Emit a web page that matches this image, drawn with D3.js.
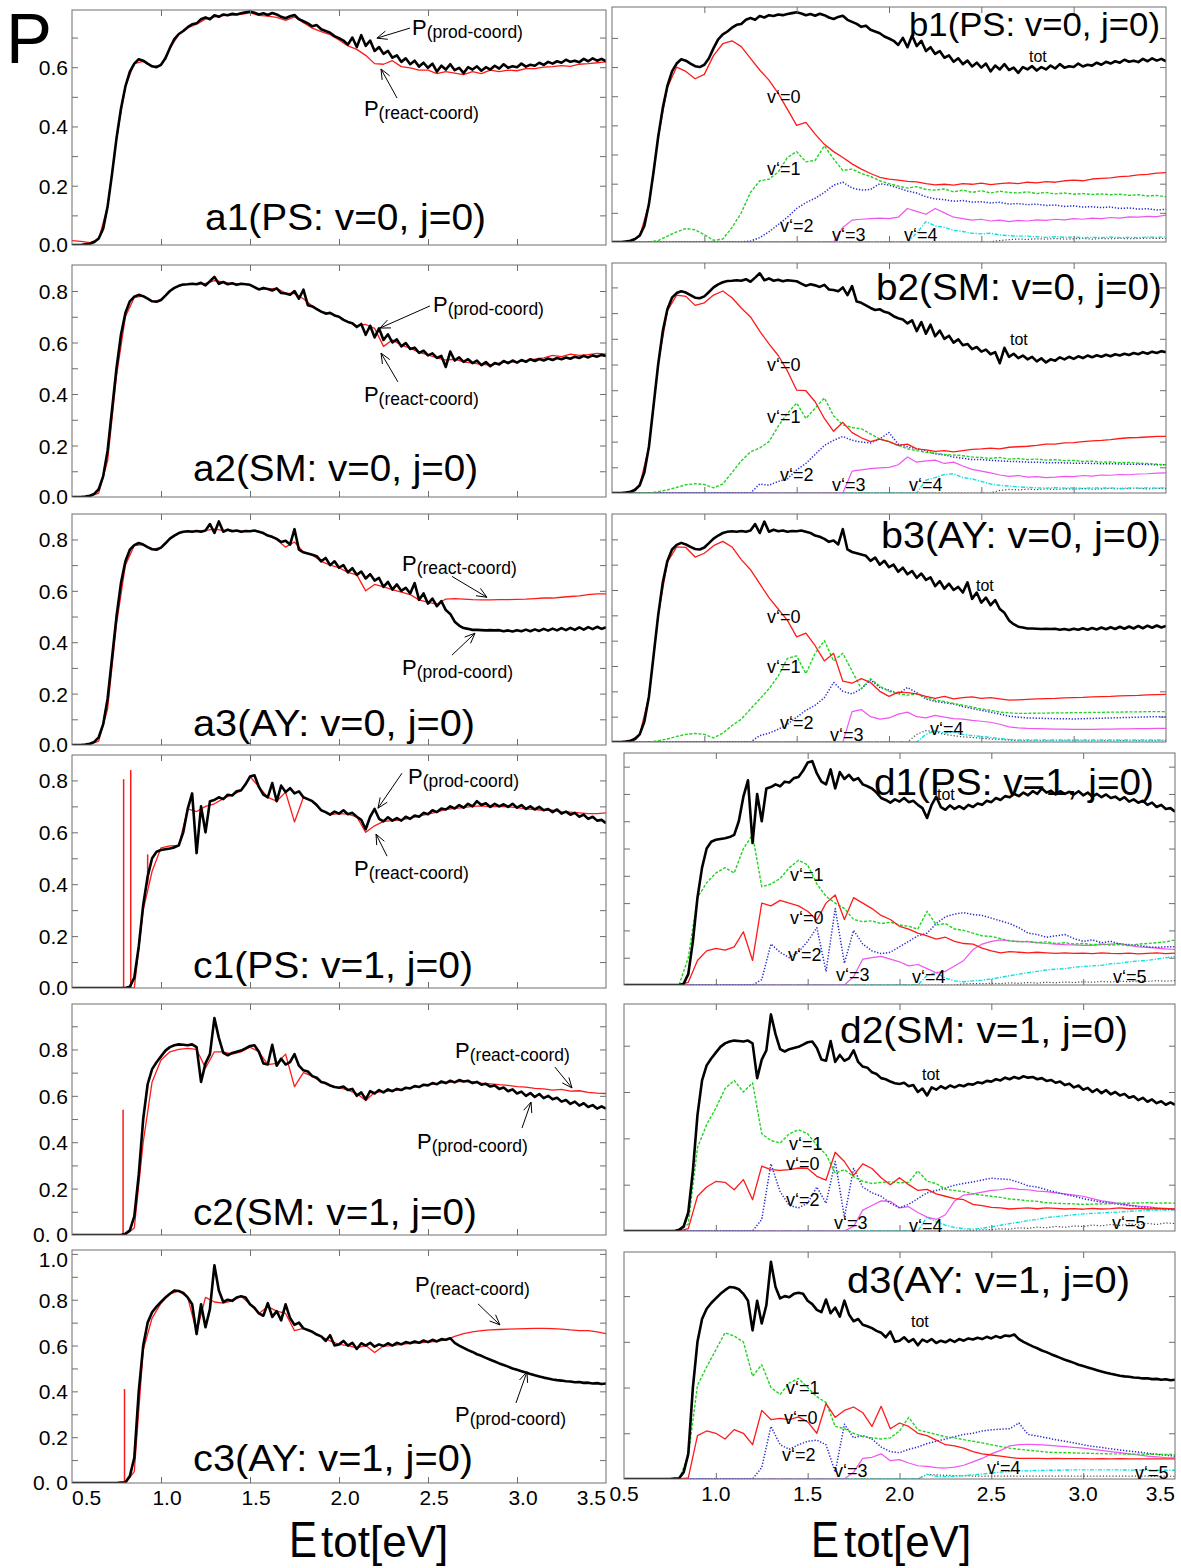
<!DOCTYPE html>
<html>
<head>
<meta charset="utf-8">
<script src="https://cdn.jsdelivr.net/npm/d3@7"></script>
<style>
  body { margin: 0; background: #fff; }
  svg text { font-family: "Liberation Sans", Arial, Helvetica, sans-serif; fill: #000; }
</style>
</head>
<body>
<svg id="fig" width="1181" height="1568"></svg>
<script>
// ---------------------------------------------------------------
// Reaction probabilities P(Etot) for three potential surfaces
// (PS, SM, AY), initial v=0 and v=1, j=0.
// Total curves are sampled every 0.025 eV, the rest every 0.05 eV.
// ---------------------------------------------------------------
const E_FINE = d3.range(121).map(i => +(0.5 + 0.025 * i).toFixed(3));
const E_COARSE = d3.range(61).map(i => +(0.5 + 0.05 * i).toFixed(2));

// ---------- PS, v=0 ----------
const totPS0 = [
  0.000,0.000,0.000,0.002,0.004,0.010,0.022,0.055,0.130,0.240,
  0.360,0.460,0.535,0.585,0.612,0.627,0.622,0.612,0.603,0.600,
  0.608,0.630,0.665,0.695,0.712,0.722,0.735,0.745,0.748,0.762,
  0.768,0.762,0.775,0.770,0.778,0.775,0.780,0.778,0.782,0.785,
  0.788,0.784,0.778,0.782,0.776,0.783,0.778,0.770,0.765,0.772,
  0.776,0.762,0.755,0.748,0.738,0.742,0.728,0.722,0.716,0.705,
  0.698,0.690,0.676,0.700,0.668,0.708,0.672,0.690,0.655,0.668,
  0.645,0.655,0.632,0.640,0.618,0.630,0.610,0.622,0.602,0.615,
  0.598,0.612,0.585,0.605,0.592,0.610,0.590,0.598,0.580,0.600,
  0.592,0.603,0.588,0.600,0.592,0.605,0.595,0.610,0.598,0.603,
  0.600,0.612,0.602,0.608,0.605,0.615,0.608,0.618,0.612,0.620,
  0.615,0.625,0.618,0.622,0.617,0.628,0.620,0.630,0.622,0.628,
  0.620];
const reactPS0 = [
  0.015,0.012,0.008,0.020,0.130,0.360,0.535,0.612,0.620,0.602,
  0.607,0.664,0.710,0.733,0.745,0.762,0.770,0.774,0.776,0.778,
  0.783,0.775,0.772,0.768,0.758,0.770,0.750,0.732,0.720,0.710,
  0.692,0.672,0.660,0.640,0.612,0.610,0.622,0.602,0.598,0.590,
  0.590,0.578,0.585,0.580,0.575,0.585,0.578,0.590,0.585,0.590,
  0.588,0.595,0.595,0.600,0.602,0.605,0.603,0.610,0.612,0.615,
  0.618];
const v0PS0 = [
  0,0,0.004,0.020,0.130,0.360,0.530,0.600,0.585,0.560,
  0.575,0.640,0.680,0.690,0.670,0.630,0.590,0.555,0.510,0.455,
  0.400,0.410,0.370,0.335,0.310,0.290,0.268,0.250,0.235,0.222,
  0.216,0.212,0.208,0.206,0.200,0.196,0.198,0.195,0.200,0.198,
  0.202,0.197,0.200,0.203,0.200,0.205,0.203,0.207,0.205,0.210,
  0.212,0.210,0.216,0.218,0.220,0.224,0.226,0.230,0.232,0.236,
  0.238];
const v1PS0 = [
  0,0,0,0,0,0.005,0.020,0.035,0.046,0.042,
  0.025,0.006,0.010,0.050,0.100,0.170,0.210,0.215,0.240,0.290,
  0.310,0.275,0.280,0.330,0.285,0.245,0.250,0.235,0.225,0.210,
  0.200,0.192,0.185,0.190,0.180,0.178,0.182,0.172,0.178,0.170,
  0.176,0.168,0.174,0.170,0.168,0.172,0.166,0.170,0.165,0.168,
  0.164,0.166,0.163,0.165,0.162,0.164,0.160,0.162,0.158,0.160,
  0.155];
const v2PS0 = [
  0,0,0,0,0,0,0,0,0,0,
  0,0,0,0,0,0.003,0.015,0.035,0.060,0.085,
  0.115,0.135,0.150,0.170,0.195,0.205,0.185,0.178,0.180,0.200,
  0.195,0.185,0.175,0.168,0.155,0.148,0.145,0.140,0.142,0.137,
  0.138,0.134,0.136,0.130,0.132,0.128,0.130,0.125,0.127,0.122,
  0.124,0.120,0.121,0.118,0.120,0.115,0.117,0.113,0.114,0.110,
  0.112];
const v3PS0 = [
  0,0,0,0,0,0,0,0,0,0,
  0,0,0,0,0,0,0,0,0,0,
  0,0,0,0,0,0.050,0.075,0.078,0.080,0.082,
  0.080,0.085,0.115,0.105,0.095,0.115,0.100,0.085,0.080,0.075,
  0.078,0.072,0.075,0.070,0.074,0.072,0.076,0.074,0.078,0.076,
  0.080,0.078,0.082,0.080,0.084,0.082,0.086,0.085,0.088,0.087,
  0.092];
const v4PS0 = [
  0,0,0,0,0,0,0,0,0,0,
  0,0,0,0,0,0,0,0,0,0,
  0,0,0,0,0,0,0,0,0,0,
  0,0,0,0.030,0.070,0.055,0.050,0.040,0.036,0.030,
  0.028,0.030,0.024,0.022,0.020,0.020,0.018,0.016,0.018,0.016,
  0.017,0.015,0.016,0.015,0.017,0.015,0.016,0.015,0.017,0.016,
  0.017];
const v5PS0 = [
  0,0,0,0,0,0,0,0,0,0,
  0,0,0,0,0,0,0,0,0,0,
  0,0,0,0,0,0,0,0,0,0,
  0,0,0,0,0,0,0,0,0,0,
  0,0,0.005,0.008,0.010,0.009,0.011,0.010,0.012,0.010,
  0.011,0.012,0.010,0.012,0.011,0.013,0.011,0.012,0.013,0.012,
  0.012];

// ---------- SM, v=0 ----------
const totSM0 = [
  0,0,0,0.002,0.005,0.012,0.030,0.080,0.180,0.340,
  0.500,0.630,0.715,0.760,0.778,0.785,0.780,0.770,0.760,0.758,
  0.765,0.782,0.800,0.812,0.820,0.825,0.826,0.828,0.826,0.832,
  0.822,0.838,0.855,0.828,0.835,0.826,0.830,0.824,0.828,0.826,
  0.824,0.815,0.806,0.812,0.808,0.802,0.810,0.792,0.790,0.785,
  0.800,0.770,0.805,0.745,0.740,0.730,0.720,0.712,0.715,0.705,
  0.700,0.688,0.680,0.675,0.660,0.672,0.630,0.665,0.620,0.655,
  0.610,0.632,0.600,0.612,0.585,0.598,0.575,0.580,0.560,0.568,
  0.550,0.558,0.540,0.548,0.505,0.565,0.530,0.542,0.525,0.535,
  0.520,0.530,0.512,0.524,0.508,0.520,0.515,0.528,0.520,0.530,
  0.522,0.532,0.525,0.535,0.528,0.536,0.530,0.538,0.532,0.540,
  0.535,0.542,0.537,0.545,0.540,0.548,0.542,0.550,0.545,0.552,
  0.548];
const reactSM0 = [
  0,0,0.002,0.015,0.140,0.470,0.700,0.775,0.780,0.760,
  0.765,0.800,0.820,0.826,0.826,0.830,0.840,0.835,0.828,0.828,
  0.824,0.806,0.808,0.810,0.792,0.790,0.770,0.742,0.720,0.714,
  0.700,0.680,0.665,0.670,0.655,0.585,0.610,0.590,0.578,0.562,
  0.552,0.540,0.532,0.535,0.525,0.520,0.515,0.512,0.520,0.525,
  0.525,0.530,0.535,0.540,0.550,0.545,0.555,0.550,0.553,0.558,
  0.555];
const v0SM0 = [
  0,0,0.005,0.030,0.180,0.500,0.710,0.770,0.765,0.730,
  0.740,0.770,0.786,0.760,0.720,0.685,0.630,0.580,0.535,0.475,
  0.400,0.398,0.355,0.290,0.240,0.275,0.235,0.215,0.200,0.210,
  0.200,0.185,0.190,0.172,0.168,0.162,0.165,0.160,0.165,0.170,
  0.172,0.175,0.172,0.178,0.180,0.182,0.185,0.190,0.190,0.195,
  0.196,0.200,0.203,0.205,0.208,0.212,0.215,0.216,0.218,0.220,
  0.220];
const v1SM0 = [
  0,0,0,0,0,0.005,0.012,0.022,0.032,0.036,
  0.033,0.020,0.035,0.080,0.125,0.160,0.175,0.200,0.260,0.310,
  0.350,0.290,0.330,0.370,0.300,0.265,0.255,0.250,0.230,0.210,
  0.200,0.185,0.172,0.165,0.158,0.155,0.150,0.148,0.145,0.140,
  0.138,0.135,0.138,0.132,0.134,0.130,0.132,0.128,0.130,0.126,
  0.127,0.123,0.124,0.120,0.121,0.118,0.119,0.116,0.115,0.112,
  0.110];
const v2SM0 = [
  0,0,0,0,0,0,0,0,0,0,
  0,0,0,0,0,0,0.035,0.030,0.045,0.055,
  0.090,0.115,0.150,0.185,0.205,0.220,0.205,0.198,0.195,0.210,
  0.235,0.190,0.180,0.172,0.165,0.152,0.148,0.140,0.135,0.130,
  0.130,0.127,0.125,0.123,0.122,0.120,0.120,0.118,0.118,0.117,
  0.116,0.116,0.115,0.114,0.114,0.113,0.112,0.112,0.111,0.110,
  0.110];
const v3SM0 = [
  0,0,0,0,0,0,0,0,0,0,
  0,0,0,0,0,0,0,0,0,0,
  0,0,0,0,0,0,0.085,0.090,0.095,0.098,
  0.100,0.110,0.140,0.120,0.125,0.128,0.115,0.120,0.105,0.092,
  0.085,0.078,0.070,0.065,0.068,0.062,0.064,0.060,0.062,0.065,
  0.064,0.068,0.066,0.070,0.069,0.072,0.071,0.074,0.075,0.077,
  0.078];
const v4SM0 = [
  0,0,0,0,0,0,0,0,0,0,
  0,0,0,0,0,0,0,0,0,0,
  0,0,0,0,0,0,0,0,0,0,
  0,0,0,0,0.050,0.060,0.072,0.075,0.060,0.055,
  0.045,0.035,0.030,0.027,0.024,0.022,0.020,0.019,0.021,0.019,
  0.020,0.018,0.020,0.019,0.020,0.018,0.020,0.019,0.020,0.019,
  0.020];
const v5SM0 = [
  0,0,0,0,0,0,0,0,0,0,
  0,0,0,0,0,0,0,0,0,0,
  0,0,0,0,0,0,0,0,0,0,
  0,0,0,0,0,0,0,0,0,0,
  0,0,0.010,0.014,0.012,0.015,0.013,0.016,0.014,0.016,
  0.015,0.017,0.015,0.016,0.018,0.016,0.017,0.018,0.016,0.018,
  0.017];

// ---------- AY, v=0 ----------
const totAY0 = [
  0,0,0,0.002,0.005,0.012,0.030,0.080,0.180,0.340,
  0.500,0.630,0.715,0.760,0.778,0.786,0.780,0.770,0.762,0.760,
  0.768,0.785,0.803,0.815,0.825,0.830,0.832,0.830,0.833,0.830,
  0.835,0.860,0.825,0.870,0.830,0.838,0.832,0.835,0.830,0.833,
  0.832,0.835,0.830,0.825,0.815,0.810,0.802,0.790,0.795,0.780,
  0.840,0.760,0.750,0.745,0.740,0.735,0.715,0.728,0.700,0.715,
  0.690,0.700,0.672,0.688,0.662,0.675,0.648,0.665,0.640,0.650,
  0.615,0.635,0.605,0.625,0.600,0.612,0.590,0.630,0.565,0.590,
  0.550,0.570,0.540,0.560,0.525,0.510,0.480,0.465,0.455,0.452,
  0.448,0.448,0.447,0.446,0.447,0.446,0.447,0.443,0.446,0.442,
  0.447,0.443,0.449,0.443,0.450,0.444,0.452,0.445,0.453,0.446,
  0.455,0.447,0.456,0.448,0.458,0.449,0.459,0.451,0.460,0.452,
  0.458];
const reactAY0 = [
  0,0,0.002,0.015,0.140,0.470,0.700,0.776,0.780,0.762,
  0.768,0.803,0.825,0.832,0.833,0.835,0.840,0.835,0.835,0.832,
  0.834,0.830,0.815,0.800,0.770,0.790,0.750,0.740,0.715,0.700,
  0.690,0.672,0.662,0.600,0.625,0.615,0.605,0.595,0.585,0.565,
  0.555,0.548,0.568,0.570,0.568,0.566,0.565,0.565,0.566,0.566,
  0.567,0.568,0.570,0.572,0.572,0.575,0.578,0.580,0.585,0.588,
  0.588];
const v0AY0 = [
  0,0,0.005,0.030,0.180,0.500,0.710,0.770,0.768,0.730,
  0.745,0.775,0.792,0.770,0.720,0.680,0.625,0.570,0.525,0.480,
  0.415,0.430,0.380,0.320,0.350,0.240,0.232,0.250,0.235,0.200,
  0.180,0.197,0.195,0.190,0.180,0.172,0.180,0.170,0.175,0.178,
  0.172,0.175,0.170,0.165,0.166,0.168,0.170,0.171,0.172,0.174,
  0.175,0.176,0.178,0.179,0.180,0.182,0.183,0.184,0.186,0.187,
  0.188];
const v1AY0 = [
  0,0,0,0,0,0.005,0.012,0.022,0.030,0.034,
  0.030,0.016,0.035,0.065,0.090,0.130,0.170,0.210,0.260,0.330,
  0.340,0.270,0.350,0.400,0.320,0.350,0.280,0.210,0.250,0.220,
  0.200,0.190,0.185,0.190,0.175,0.165,0.160,0.152,0.145,0.138,
  0.130,0.125,0.118,0.115,0.113,0.113,0.114,0.114,0.115,0.115,
  0.116,0.116,0.117,0.117,0.118,0.118,0.119,0.119,0.120,0.120,
  0.120];
const v2AY0 = [
  0,0,0,0,0,0,0,0,0,0,
  0,0,0,0,0,0,0.025,0.035,0.050,0.070,
  0.098,0.125,0.145,0.175,0.235,0.200,0.190,0.210,0.245,0.215,
  0.205,0.190,0.215,0.195,0.170,0.160,0.155,0.150,0.140,0.132,
  0.125,0.118,0.110,0.102,0.098,0.095,0.094,0.093,0.092,0.092,
  0.091,0.092,0.093,0.094,0.095,0.096,0.097,0.098,0.099,0.100,
  0.100];
const v3AY0 = [
  0,0,0,0,0,0,0,0,0,0,
  0,0,0,0,0,0,0,0,0,0,
  0,0,0,0,0,0,0.120,0.128,0.100,0.090,
  0.095,0.110,0.118,0.100,0.095,0.105,0.098,0.092,0.090,0.085,
  0.082,0.078,0.070,0.060,0.056,0.054,0.053,0.052,0.051,0.051,
  0.050,0.050,0.050,0.051,0.051,0.052,0.052,0.053,0.053,0.054,
  0.054];
const v4AY0 = [
  0,0,0,0,0,0,0,0,0,0,
  0,0,0,0,0,0,0,0,0,0,
  0,0,0,0,0,0,0,0,0,0,
  0,0,0,0,0.030,0.045,0.035,0.040,0.030,0.025,
  0.022,0.018,0.014,0.010,0.008,0.008,0.008,0.008,0.008,0.008,
  0.008,0.008,0.008,0.008,0.008,0.008,0.008,0.008,0.008,0.008,
  0.008];
const v5AY0 = [
  0,0,0,0,0,0,0,0,0,0,
  0,0,0,0,0,0,0,0,0,0,
  0,0,0,0,0,0,0,0,0,0,
  0,0,0,0.030,0.045,0.040,0.030,0.025,0.020,0.018,
  0.015,0.012,0.010,0.008,0.005,0.005,0.005,0.005,0.005,0.005,
  0.005,0.005,0.005,0.005,0.005,0.005,0.005,0.005,0.005,0.005,
  0.005];

// ---------- PS, v=1 ----------
const totPS1 = [
  0,0,0,0,0,0,0,0,0,0,
  0,0,0,0.005,0.040,0.160,0.320,0.430,0.500,0.525,
  0.532,0.535,0.538,0.542,0.550,0.600,0.690,0.750,0.520,0.700,
  0.600,0.720,0.725,0.735,0.728,0.745,0.742,0.758,0.762,0.785,
  0.815,0.820,0.775,0.745,0.735,0.790,0.720,0.780,0.755,0.770,
  0.750,0.758,0.735,0.728,0.720,0.705,0.685,0.678,0.668,0.680,
  0.672,0.685,0.670,0.675,0.660,0.648,0.612,0.660,0.690,0.652,
  0.642,0.658,0.645,0.655,0.645,0.660,0.652,0.665,0.660,0.675,
  0.670,0.685,0.678,0.692,0.688,0.700,0.692,0.705,0.695,0.710,
  0.700,0.720,0.705,0.712,0.698,0.710,0.700,0.708,0.698,0.710,
  0.695,0.705,0.690,0.700,0.688,0.698,0.685,0.690,0.678,0.688,
  0.672,0.680,0.668,0.675,0.660,0.668,0.652,0.660,0.645,0.648,
  0.635];
const reactPS1 = [
  0,0,0,0,0,0,0,0,0.300,0.450,
  0.540,0.548,0.550,0.690,0.680,0.700,0.710,0.730,0.745,0.760,
  0.815,0.775,0.735,0.720,0.755,0.640,0.735,0.720,0.685,0.668,
  0.672,0.670,0.660,0.600,0.625,0.642,0.645,0.648,0.655,0.662,
  0.670,0.678,0.688,0.692,0.695,0.700,0.702,0.698,0.700,0.698,
  0.695,0.690,0.688,0.685,0.685,0.680,0.678,0.675,0.672,0.672,
  0.675];
const v0PS1 = [
  0,0,0,0,0,0,0,0.010,0.090,0.125,
  0.134,0.128,0.140,0.195,0.090,0.300,0.290,0.310,0.300,0.290,
  0.270,0.238,0.300,0.330,0.240,0.320,0.300,0.280,0.255,0.240,
  0.215,0.205,0.190,0.180,0.168,0.175,0.160,0.152,0.150,0.135,
  0.125,0.118,0.122,0.120,0.118,0.120,0.118,0.116,0.118,0.116,
  0.117,0.115,0.118,0.116,0.115,0.117,0.114,0.116,0.118,0.115,
  0.117];
const v1PS1 = [
  0,0,0,0,0,0,0,0.100,0.320,0.375,
  0.410,0.430,0.410,0.500,0.550,0.360,0.370,0.390,0.430,0.457,
  0.440,0.370,0.325,0.300,0.280,0.240,0.232,0.235,0.225,0.230,
  0.220,0.215,0.205,0.270,0.220,0.225,0.205,0.200,0.190,0.180,
  0.178,0.170,0.162,0.158,0.160,0.155,0.158,0.152,0.155,0.150,
  0.152,0.148,0.150,0.146,0.148,0.144,0.150,0.152,0.155,0.158,
  0.165];
const v2PS1 = [
  0,0,0,0,0,0,0,0,0,0,
  0,0,0,0,0,0.020,0.150,0.120,0.100,0.120,
  0.160,0.210,0.050,0.280,0.080,0.200,0.150,0.125,0.115,0.120,
  0.140,0.160,0.180,0.190,0.225,0.250,0.260,0.265,0.258,0.255,
  0.245,0.235,0.225,0.210,0.190,0.185,0.175,0.180,0.185,0.170,
  0.160,0.165,0.155,0.160,0.150,0.148,0.145,0.140,0.138,0.140,
  0.140];
const v3PS1 = [
  0,0,0,0,0,0,0,0,0,0,
  0,0,0,0,0,0,0,0,0,0,
  0,0,0,0,0,0.030,0.095,0.100,0.105,0.095,
  0.085,0.070,0.075,0.060,0.045,0.050,0.070,0.090,0.130,0.150,
  0.160,0.165,0.162,0.160,0.158,0.155,0.152,0.150,0.148,0.147,
  0.145,0.145,0.148,0.150,0.152,0.145,0.140,0.138,0.135,0.132,
  0.130];
const v4PS1 = [
  0,0,0,0,0,0,0,0,0,0,
  0,0,0,0,0,0,0,0,0,0,
  0,0,0,0,0,0,0,0,0,0,
  0,0,0,0.035,0.045,0.025,0.015,0.012,0.015,0.018,
  0.022,0.028,0.034,0.040,0.045,0.050,0.055,0.058,0.060,0.065,
  0.068,0.070,0.072,0.078,0.080,0.085,0.088,0.090,0.095,0.100,
  0.104];
const v5PS1 = [
  0,0,0,0,0,0,0,0,0,0,
  0,0,0,0,0,0,0,0,0,0,
  0,0,0,0,0,0,0,0,0,0,
  0,0,0,0,0,0,0,0.004,0.005,0.005,
  0.006,0.005,0.008,0.006,0.009,0.007,0.010,0.008,0.011,0.009,
  0.012,0.010,0.013,0.011,0.014,0.012,0.015,0.013,0.016,0.014,
  0.016];

// ---------- SM, v=1 ----------
const totSM1 = [
  0,0,0,0,0,0,0,0,0,0,
  0,0,0.005,0.020,0.080,0.260,0.500,0.650,0.715,0.745,
  0.770,0.795,0.810,0.818,0.822,0.820,0.818,0.822,0.810,0.660,
  0.740,0.780,0.935,0.850,0.785,0.775,0.785,0.790,0.795,0.805,
  0.815,0.818,0.790,0.740,0.735,0.820,0.730,0.760,0.735,0.745,
  0.780,0.730,0.710,0.705,0.685,0.678,0.660,0.655,0.645,0.638,
  0.635,0.640,0.625,0.630,0.600,0.615,0.585,0.620,0.610,0.625,
  0.615,0.628,0.620,0.630,0.625,0.635,0.632,0.642,0.638,0.648,
  0.645,0.655,0.650,0.662,0.655,0.665,0.658,0.668,0.662,0.665,
  0.655,0.660,0.648,0.652,0.640,0.645,0.630,0.636,0.620,0.628,
  0.610,0.618,0.600,0.612,0.595,0.608,0.590,0.600,0.585,0.592,
  0.575,0.582,0.565,0.575,0.558,0.568,0.552,0.560,0.545,0.555,
  0.545];
const reactSM1 = [
  0,0,0,0,0,0,0,0.030,0.400,0.660,
  0.755,0.790,0.800,0.805,0.800,0.720,0.790,0.790,0.780,0.790,
  0.810,0.790,0.735,0.740,0.780,0.640,0.700,0.685,0.660,0.642,
  0.635,0.625,0.610,0.580,0.615,0.618,0.622,0.628,0.635,0.640,
  0.648,0.652,0.658,0.660,0.662,0.660,0.655,0.652,0.648,0.645,
  0.640,0.638,0.632,0.630,0.625,0.628,0.620,0.622,0.615,0.612,
  0.610];
const v0SM1 = [
  0,0,0,0,0,0,0,0.010,0.150,0.190,
  0.214,0.210,0.178,0.222,0.135,0.280,0.265,0.262,0.265,0.272,
  0.270,0.236,0.220,0.340,0.300,0.240,0.290,0.270,0.230,0.200,
  0.230,0.200,0.175,0.180,0.160,0.150,0.140,0.135,0.115,0.110,
  0.102,0.100,0.095,0.098,0.100,0.096,0.100,0.098,0.095,0.097,
  0.094,0.098,0.095,0.097,0.100,0.096,0.098,0.095,0.097,0.096,
  0.095];
const v1SM1 = [
  0,0,0,0,0,0,0,0.030,0.360,0.460,
  0.530,0.615,0.650,0.600,0.640,0.420,0.390,0.380,0.420,0.437,
  0.420,0.370,0.330,0.250,0.265,0.235,0.215,0.205,0.210,0.212,
  0.208,0.210,0.260,0.215,0.205,0.180,0.175,0.170,0.160,0.155,
  0.150,0.145,0.138,0.135,0.130,0.128,0.122,0.120,0.118,0.117,
  0.115,0.116,0.117,0.118,0.120,0.120,0.121,0.122,0.120,0.121,
  0.120];
const v2SM1 = [
  0,0,0,0,0,0,0,0,0,0,
  0,0,0,0,0,0.050,0.290,0.170,0.110,0.100,
  0.120,0.190,0.120,0.300,0.060,0.270,0.190,0.165,0.150,0.120,
  0.100,0.115,0.140,0.165,0.175,0.185,0.198,0.205,0.212,0.220,
  0.228,0.225,0.222,0.210,0.195,0.190,0.178,0.168,0.158,0.150,
  0.140,0.132,0.125,0.120,0.115,0.110,0.105,0.100,0.098,0.095,
  0.092];
const v3SM1 = [
  0,0,0,0,0,0,0,0,0,0,
  0,0,0,0,0,0,0,0,0,0,
  0,0,0,0,0,0.020,0.090,0.110,0.130,0.128,
  0.100,0.105,0.080,0.060,0.050,0.070,0.130,0.155,0.160,0.168,
  0.175,0.178,0.185,0.180,0.178,0.172,0.170,0.165,0.160,0.155,
  0.150,0.140,0.130,0.125,0.118,0.112,0.108,0.105,0.100,0.098,
  0.095];
const v4SM1 = [
  0,0,0,0,0,0,0,0,0,0,
  0,0,0,0,0,0,0,0,0,0,
  0,0,0,0,0,0,0,0,0,0,
  0,0,0,0.060,0.040,0.025,0.015,0.010,0.008,0.012,
  0.018,0.025,0.032,0.038,0.045,0.050,0.058,0.062,0.066,0.070,
  0.074,0.076,0.078,0.080,0.082,0.085,0.087,0.088,0.090,0.090,
  0.092];
const v5SM1 = [
  0,0,0,0,0,0,0,0,0,0,
  0,0,0,0,0,0,0,0,0,0,
  0,0,0,0,0,0,0,0,0,0,
  0,0,0,0,0,0,0,0,0.003,0.005,
  0.006,0.010,0.008,0.014,0.011,0.017,0.014,0.020,0.016,0.022,
  0.019,0.026,0.022,0.028,0.024,0.031,0.026,0.033,0.028,0.035,
  0.032];

// ---------- AY, v=1 ----------
const totAY1 = [
  0,0,0,0,0,0,0,0,0,0,
  0,0.002,0.003,0.030,0.110,0.400,0.600,0.700,0.745,0.770,
  0.790,0.810,0.826,0.840,0.838,0.830,0.810,0.780,0.650,0.780,
  0.680,0.760,0.950,0.840,0.790,0.800,0.795,0.810,0.815,0.810,
  0.780,0.765,0.740,0.730,0.785,0.725,0.750,0.710,0.780,0.720,
  0.690,0.700,0.675,0.668,0.660,0.648,0.640,0.620,0.645,0.600,
  0.605,0.620,0.600,0.612,0.585,0.610,0.600,0.612,0.595,0.605,
  0.598,0.610,0.600,0.612,0.605,0.615,0.610,0.618,0.612,0.622,
  0.615,0.625,0.618,0.628,0.625,0.632,0.612,0.600,0.590,0.580,
  0.572,0.562,0.555,0.546,0.538,0.530,0.522,0.515,0.508,0.500,
  0.494,0.488,0.482,0.476,0.470,0.465,0.460,0.456,0.452,0.449,
  0.447,0.444,0.443,0.440,0.441,0.437,0.438,0.434,0.436,0.432,
  0.434];
const reactAY1 = [
  0,0,0,0,0,0,0,0.050,0.580,0.720,
  0.785,0.826,0.838,0.810,0.660,0.810,0.790,0.785,0.795,0.815,
  0.780,0.740,0.770,0.750,0.740,0.665,0.675,0.660,0.640,0.620,
  0.605,0.600,0.590,0.600,0.570,0.598,0.600,0.605,0.610,0.612,
  0.615,0.618,0.625,0.640,0.652,0.660,0.665,0.668,0.670,0.672,
  0.673,0.674,0.675,0.675,0.674,0.672,0.668,0.665,0.665,0.660,
  0.652];
const v0AY1 = [
  0,0,0,0,0,0,0,0.005,0.190,0.210,
  0.200,0.175,0.216,0.200,0.150,0.300,0.260,0.265,0.260,0.272,
  0.250,0.200,0.330,0.270,0.300,0.315,0.290,0.230,0.318,0.220,
  0.245,0.230,0.200,0.190,0.170,0.150,0.145,0.135,0.120,0.110,
  0.105,0.100,0.095,0.090,0.090,0.090,0.089,0.090,0.089,0.089,
  0.089,0.088,0.089,0.088,0.089,0.088,0.088,0.088,0.088,0.088,
  0.088];
const v1AY1 = [
  0,0,0,0,0,0,0,0.100,0.410,0.490,
  0.565,0.640,0.625,0.600,0.450,0.500,0.400,0.370,0.420,0.440,
  0.400,0.360,0.335,0.230,0.220,0.200,0.185,0.180,0.175,0.180,
  0.210,0.270,0.215,0.205,0.195,0.185,0.180,0.172,0.165,0.158,
  0.150,0.142,0.135,0.130,0.126,0.122,0.118,0.116,0.115,0.114,
  0.113,0.112,0.111,0.110,0.110,0.109,0.109,0.108,0.108,0.107,
  0.107];
const v2AY1 = [
  0,0,0,0,0,0,0,0,0,0,
  0,0,0,0,0,0.050,0.230,0.150,0.130,0.150,
  0.165,0.170,0.150,0.030,0.240,0.180,0.190,0.175,0.140,0.120,
  0.115,0.130,0.140,0.155,0.165,0.175,0.185,0.195,0.200,0.210,
  0.215,0.218,0.220,0.245,0.195,0.188,0.180,0.172,0.165,0.158,
  0.150,0.143,0.138,0.132,0.127,0.122,0.118,0.113,0.108,0.104,
  0.100];
const v3AY1 = [
  0,0,0,0,0,0,0,0,0,0,
  0,0,0,0,0,0,0,0,0,0,
  0,0,0,0,0,0.030,0.090,0.095,0.110,0.080,
  0.085,0.070,0.058,0.055,0.050,0.048,0.052,0.060,0.075,0.090,
  0.110,0.125,0.145,0.150,0.152,0.150,0.148,0.145,0.142,0.138,
  0.135,0.130,0.125,0.120,0.115,0.110,0.105,0.100,0.097,0.094,
  0.092];
const v4AY1 = [
  0,0,0,0,0,0,0,0,0,0,
  0,0,0,0,0,0,0,0,0,0,
  0,0,0,0,0,0,0,0,0,0,
  0,0,0,0.020,0.012,0.010,0.012,0.015,0.018,0.022,
  0.026,0.030,0.033,0.035,0.036,0.037,0.038,0.038,0.039,0.040,
  0.040,0.040,0.040,0.040,0.040,0.039,0.039,0.039,0.038,0.038,
  0.038];
const v5AY1 = [
  0,0,0,0,0,0,0,0,0,0,
  0,0,0,0,0,0,0,0,0,0,
  0,0,0,0,0,0,0,0,0,0,
  0,0,0,0.020,0.018,0.016,0.015,0.014,0.013,0.012,
  0.013,0.012,0.013,0.012,0.013,0.012,0.013,0.012,0.013,0.012,
  0.013,0.012,0.013,0.012,0.013,0.012,0.013,0.012,0.013,0.012,
  0.012];

// Narrow resonances of the reactant-coordinate flux: [E, from, to]
const spikesPS1 = [[0.790, 0, 0.805], [0.830, 0, 0.840], [0.925, 0.40, 0.515]];
const spikesSM1 = [[0.787, 0, 0.540]];
const spikesAY1 = [[0.795, 0, 0.410]];

// Tick labels
const xTickValues = [0.5, 1.0, 1.5, 2.0, 2.5, 3.0, 3.5];
const xTickLabels = ["0.5", "1.0", "1.5", "2.0", "2.5", "3.0", "3.5"];
const yTickValues = [0, 0.2, 0.4, 0.6, 0.8, 1.0];
const yTickLabelsV0 = ["0.0", "0.2", "0.4", "0.6", "0.8", "1.0"];
const yTickLabelsV1 = ["0. 0", "0.2", "0.4", "0.6", "0.8", "1.0"];
const stateLabels = ["v\u2018=0", "v\u2018=1", "v\u2018=2", "v\u2018=3", "v\u2018=4", "v\u2018=5"];

const systems = {
  PS0: { tot: totPS0, react: reactPS0, states: [v0PS0, v1PS0, v2PS0, v3PS0, v4PS0, v5PS0], spikes: [] },
  SM0: { tot: totSM0, react: reactSM0, states: [v0SM0, v1SM0, v2SM0, v3SM0, v4SM0, v5SM0], spikes: [] },
  AY0: { tot: totAY0, react: reactAY0, states: [v0AY0, v1AY0, v2AY0, v3AY0, v4AY0, v5AY0], spikes: [] },
  PS1: { tot: totPS1, react: reactPS1, states: [v0PS1, v1PS1, v2PS1, v3PS1, v4PS1, v5PS1], spikes: spikesPS1 },
  SM1: { tot: totSM1, react: reactSM1, states: [v0SM1, v1SM1, v2SM1, v3SM1, v4SM1, v5SM1], spikes: spikesSM1 },
  AY1: { tot: totAY1, react: reactAY1, states: [v0AY1, v1AY1, v2AY1, v3AY1, v4AY1, v5AY1], spikes: spikesAY1 }
};

// Line styles for the product vibrational states v'=0..5
const stateStyle = [
  { color: "#ff1a1a", width: 1.3, dash: null },
  { color: "#22d422", width: 1.4, dash: "3,1.6" },
  { color: "#2a2ad0", width: 1.5, dash: "1.3,1.7" },
  { color: "#f055f0", width: 1.2, dash: null },
  { color: "#14dede", width: 1.4, dash: "4,1.5,1.2,1.5" },
  { color: "#444444", width: 1.2, dash: "1.2,2" }
];

// Flux-label annotations (data coordinates of label, arrow tail and tip)
const annA1 = [
  { txt: "(prod-coord)", at: [2.410, 0.708], tail: [2.399, 0.732], tip: [2.213, 0.698] },
  { txt: "(react-coord)", at: [2.140, 0.435], tail: [2.326, 0.496], tip: [2.236, 0.594] }];
const annA2 = [
  { txt: "(prod-coord)", at: [2.528, 0.718], tail: [2.511, 0.742], tip: [2.230, 0.656] },
  { txt: "(react-coord)", at: [2.140, 0.369], tail: [2.331, 0.447], tip: [2.236, 0.559] }];
const annA3 = [
  { txt: "(react-coord)", at: [2.354, 0.676], tail: [2.635, 0.656], tip: [2.831, 0.575] },
  { txt: "(prod-coord)", at: [2.354, 0.272], tail: [2.635, 0.350], tip: [2.764, 0.435] }];
const annC1 = [
  { txt: "(prod-coord)", at: [2.388, 0.786], tail: [2.354, 0.828], tip: [2.219, 0.693] },
  { txt: "(react-coord)", at: [2.084, 0.431], tail: [2.270, 0.508], tip: [2.208, 0.593] }];
const annC2 = [
  { txt: "(react-coord)", at: [2.652, 0.763], tail: [3.213, 0.724], tip: [3.309, 0.634] },
  { txt: "(prod-coord)", at: [2.438, 0.371], tail: [3.028, 0.461], tip: [3.079, 0.573] }];
const annC3 = [
  { txt: "(react-coord)", at: [2.427, 0.834], tail: [2.781, 0.782], tip: [2.904, 0.690] },
  { txt: "(prod-coord)", at: [2.652, 0.266], tail: [2.994, 0.349], tip: [3.056, 0.485] }];

// Panel layout
const LEFT = { l: 72, r: 606 };
const B = { l: 612, r: 1166 };
const D = { l: 624, r: 1175 };
const panels = [
  { name: "a1", kind: "left", sys: "PS0", box: LEFT, top: 10, bottom: 245, pmax: 0.793, step: 0.1,
    ylab: yTickLabelsV0, title: "a1(PS: v=0, j=0)", tx: 205, ty: 230, tw: 281, ts: 36, ann: annA1 },
  { name: "a2", kind: "left", sys: "SM0", box: LEFT, top: 265, bottom: 497, pmax: 0.901, step: 0.1,
    ylab: yTickLabelsV0, title: "a2(SM: v=0, j=0)", tx: 193, ty: 481, tw: 285, ts: 36, ann: annA2 },
  { name: "a3", kind: "left", sys: "AY0", box: LEFT, top: 514, bottom: 745, pmax: 0.899, step: 0.1,
    ylab: yTickLabelsV0, title: "a3(AY: v=0, j=0)", tx: 193, ty: 736, tw: 282, ts: 36, ann: annA3 },
  { name: "c1", kind: "left", sys: "PS1", box: LEFT, top: 755, bottom: 988, pmax: 0.898, step: 0.1,
    ylab: yTickLabelsV0, title: "c1(PS: v=1, j=0)", tx: 193, ty: 978, tw: 280, ts: 36, ann: annC1 },
  { name: "c2", kind: "left", sys: "SM1", box: LEFT, top: 1004, bottom: 1235, pmax: 0.996, step: 0.1,
    ylab: yTickLabelsV1, title: "c2(SM: v=1, j=0)", tx: 193, ty: 1225, tw: 284, ts: 36, ann: annC2 },
  { name: "c3", kind: "left", sys: "AY1", box: LEFT, top: 1250, bottom: 1483, pmax: 1.017, step: 0.1,
    ylab: yTickLabelsV1, title: "c3(AY: v=1, j=0)", tx: 193, ty: 1471, tw: 280, ts: 36, ann: annC3 },
  { name: "b1", kind: "right", sys: "PS0", box: B, top: 7, bottom: 242, pmax: 0.806, step: 0.1,
    title: "b1(PS: v=0, j=0)", tx: 909, ty: 36, tw: 251, ts: 33,
    labels: [["tot", 1029, 62], [0, 767, 103], [1, 767, 175], [2, 780, 232], [3, 832, 241], [4, 904, 241]] },
  { name: "b2", kind: "right", sys: "SM0", box: B, top: 263, bottom: 493, pmax: 0.895, step: 0.1,
    title: "b2(SM: v=0, j=0)", tx: 876, ty: 300, tw: 286, ts: 36,
    labels: [["tot", 1010, 345], [0, 767, 371], [1, 767, 423], [2, 780, 481], [3, 832, 491], [4, 909, 491]] },
  { name: "b3", kind: "right", sys: "AY0", box: B, top: 514, bottom: 742, pmax: 0.90, step: 0.1,
    title: "b3(AY: v=0, j=0)", tx: 881, ty: 548, tw: 280, ts: 36,
    labels: [["tot", 976, 591], [0, 767, 623], [1, 767, 673], [2, 780, 729], [3, 830, 741], [4, 930, 735]] },
  { name: "d1", kind: "right", sys: "PS1", box: D, top: 753, bottom: 985, pmax: 0.85, step: 0.1,
    title: "d1(PS: v=1, j=0)", tx: 874, ty: 795, tw: 280, ts: 36,
    labels: [["tot", 937, 800], [1, 790, 881], [0, 790, 924], [2, 788, 961], [3, 836, 981], [4, 912, 983], [5, 1113, 983]] },
  { name: "d2", kind: "right", sys: "SM1", box: D, top: 1004, bottom: 1231, pmax: 0.98, step: 0.2,
    title: "d2(SM: v=1, j=0)", tx: 840, ty: 1043, tw: 288, ts: 36,
    labels: [["tot", 922, 1080], [1, 789, 1150], [0, 786, 1170], [2, 786, 1206], [3, 834, 1229], [4, 909, 1232], [5, 1112, 1229]] },
  { name: "d3", kind: "right", sys: "AY1", box: D, top: 1252, bottom: 1479, pmax: 0.993, step: 0.2,
    title: "d3(AY: v=1, j=0)", tx: 847, ty: 1293, tw: 283, ts: 36,
    labels: [["tot", 911, 1327], [1, 786, 1394], [0, 784, 1424], [2, 782, 1461], [3, 834, 1477], [4, 987, 1474], [5, 1135, 1479]] }
];

const svg = d3.select("#fig");
const defs = svg.append("defs");
const FRAME = "#6e6e6e";

panels.forEach(p => {
  const x = d3.scaleLinear().domain([0.5, 3.5]).range([p.box.l, p.box.r]);
  const y = d3.scaleLinear().domain([0, p.pmax]).range([p.bottom, p.top]);
  const sys = systems[p.sys];
  const g = svg.append("g").attr("class", "panel-" + p.name);

  defs.append("clipPath").attr("id", "clip-" + p.name)
    .append("rect").attr("x", p.box.l).attr("y", p.top)
    .attr("width", p.box.r - p.box.l).attr("height", p.bottom - p.top);
  const plot = g.append("g").attr("clip-path", "url(#clip-" + p.name + ")");

  const coarse = d3.line().x((d, i) => x(E_COARSE[i])).y(d => y(d));
  const fine = d3.line().x((d, i) => x(E_FINE[i])).y(d => y(d));

  if (p.kind === "left") {
    plot.append("path").attr("d", coarse(sys.react))
      .attr("fill", "none").attr("stroke", "#ff1a1a").attr("stroke-width", 1.3)
      .attr("stroke-linejoin", "round");
    plot.selectAll("line.spike").data(sys.spikes).join("line").attr("class", "spike")
      .attr("x1", d => x(d[0])).attr("x2", d => x(d[0]))
      .attr("y1", d => y(d[1])).attr("y2", d => y(d[2]))
      .attr("stroke", "#ff1a1a").attr("stroke-width", 1.5);
  } else {
    for (let k = 5; k >= 0; k--) {
      const st = stateStyle[k];
      const path = plot.append("path").attr("d", coarse(sys.states[k]))
        .attr("fill", "none").attr("stroke", st.color).attr("stroke-width", st.width)
        .attr("stroke-linejoin", "round");
      if (st.dash) path.attr("stroke-dasharray", st.dash);
    }
  }
  plot.append("path").attr("d", fine(sys.tot))
    .attr("fill", "none").attr("stroke", "#000").attr("stroke-width", 2.6)
    .attr("stroke-linejoin", "round");

  // frame
  g.append("rect").attr("x", p.box.l).attr("y", p.top)
    .attr("width", p.box.r - p.box.l).attr("height", p.bottom - p.top)
    .attr("fill", "none").attr("stroke", FRAME).attr("stroke-width", 1);

  // inward ticks on all four sides
  const xt = [1.0, 1.5, 2.0, 2.5, 3.0];
  const yt = d3.range(1, Math.floor(p.pmax / p.step + 1e-6) + 1).map(k => +(k * p.step).toFixed(2))
    .filter(v => y(v) > p.top + 2);
  const axes = [
    d3.axisBottom(x).tickValues(xt).tickSize(-6).tickFormat(""),
    d3.axisTop(x).tickValues(xt).tickSize(-6).tickFormat(""),
    d3.axisLeft(y).tickValues(yt).tickSize(-6).tickFormat(""),
    d3.axisRight(y).tickValues(yt).tickSize(-6).tickFormat("")
  ];
  const shifts = [[0, p.bottom], [0, p.top], [p.box.l, 0], [p.box.r, 0]];
  axes.forEach((ax, i) => {
    const a = g.append("g").attr("transform", `translate(${shifts[i][0]},${shifts[i][1]})`).call(ax);
    a.select(".domain").remove();
    a.selectAll(".tick line").attr("stroke", FRAME);
  });

  // y tick labels (left column only); the top label sits a little lower
  if (p.kind === "left") {
    yTickValues.forEach((v, i) => {
      if (v > p.pmax + 1e-6) return;
      const dy = v === 0 ? 7 : (v === 1.0 ? 13 : 8);
      g.append("text").attr("x", p.box.l - 4).attr("y", y(v) + dy)
        .attr("text-anchor", "end").attr("font-size", 21).text(p.ylab[i]);
    });
  }

  // title
  g.append("text").attr("x", p.tx).attr("y", p.ty).attr("font-size", p.ts)
    .attr("textLength", p.tw).attr("lengthAdjust", "spacingAndGlyphs").text(p.title);

  // flux annotations with open arrowheads
  if (p.ann) {
    p.ann.forEach(a => {
      const t = g.append("text").attr("x", x(a.at[0])).attr("y", y(a.at[1]));
      t.append("tspan").attr("font-size", 22).text("P");
      t.append("tspan").attr("font-size", 17.5).attr("dy", 3).text(a.txt);
      const x0 = x(a.tail[0]), y0 = y(a.tail[1]), x1 = x(a.tip[0]), y1 = y(a.tip[1]);
      g.append("line").attr("x1", x0).attr("y1", y0).attr("x2", x1).attr("y2", y1)
        .attr("stroke", "#000").attr("stroke-width", 1);
      const ang = Math.atan2(y0 - y1, x0 - x1);
      [-0.4, 0.4].forEach(da => {
        g.append("line").attr("x1", x1).attr("y1", y1)
          .attr("x2", x1 + 11 * Math.cos(ang + da)).attr("y2", y1 + 11 * Math.sin(ang + da))
          .attr("stroke", "#000").attr("stroke-width", 1);
      });
    });
  }

  // curve labels (right column)
  if (p.labels) {
    p.labels.forEach(l => {
      const isTot = l[0] === "tot";
      g.append("text").attr("x", l[1]).attr("y", l[2])
        .attr("font-size", isTot ? 16 : 18).text(isTot ? "tot" : stateLabels[l[0]]);
    });
  }

  // x tick labels under the bottom row
  if (p.name === "c3" || p.name === "d3") {
    const last = xTickValues.length - 1;
    xTickValues.forEach((v, i) => {
      const anchor = i === 0 ? (p.kind === "left" ? "start" : "middle") : (i === last ? "end" : "middle");
      const dx = (p.kind === "left" && i > 0 && i < last) ? 6 : 0;
      g.append("text").attr("x", x(v) + dx).attr("y", p.bottom + 22)
        .attr("text-anchor", anchor).attr("font-size", 21).text(xTickLabels[i]);
    });
  }
});

// axis titles
svg.append("text").attr("x", 6).attr("y", 63).attr("font-size", 70)
  .attr("textLength", 46).attr("lengthAdjust", "spacingAndGlyphs").text("P");
[[289, 321], [811, 844]].forEach(([xe, xt]) => {
  svg.append("text").attr("x", xe).attr("y", 1557).attr("font-size", 50)
    .attr("textLength", 28).attr("lengthAdjust", "spacingAndGlyphs").text("E");
  svg.append("text").attr("x", xt).attr("y", 1557).attr("font-size", 44).text("tot[eV]");
});
</script>
</body>
</html>
